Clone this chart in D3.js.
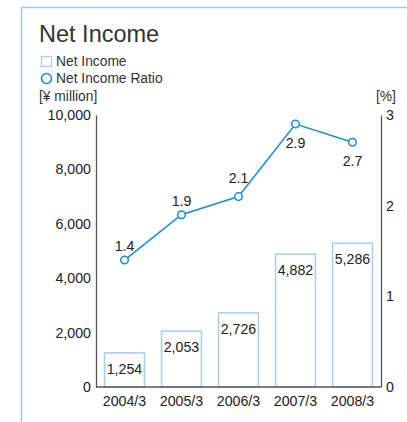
<!DOCTYPE html>
<html><head><meta charset="utf-8">
<script src="https://cdn.jsdelivr.net/npm/d3@7"></script>
<style>body{margin:0;background:#fff}svg{display:block}text{font-family:"Liberation Sans",Arial,sans-serif;fill:#222}</style>
</head><body>
<script>
const categories = ["2004/3","2005/3","2006/3","2007/3","2008/3"];
const netIncome = [1254,2053,2726,4882,5286];
const ratio = [1.4,1.9,2.1,2.9,2.7];
const leftTicks = [0,2000,4000,6000,8000,10000];
const rightTicks = [0,1,2,3];
const ratioLabelDy = [-9.5,-8.5,-14,24,24];

const W=407,H=422;
const svg=d3.select("body").append("svg").attr("width",W).attr("height",H);
const blue="#1a8fd6", barStroke="#a8cdee", frame="#9ccaf0";
const fs=14.2;

svg.append("line").attr("x1",21.5).attr("x2",21.5).attr("y1",7).attr("y2",H).attr("stroke",frame).attr("stroke-width",1.5);
svg.append("line").attr("x1",21).attr("x2",W).attr("y1",7.5).attr("y2",7.5).attr("stroke",frame).attr("stroke-width",1.5);

svg.append("text").attr("x",39).attr("y",42).attr("font-size",23.5).style("fill","#333").text("Net Income");
svg.append("rect").attr("x",41.5).attr("y",56.5).attr("width",10).attr("height",10).attr("fill","#fff").attr("stroke",barStroke).attr("stroke-width",1.2);
svg.append("text").attr("x",56).attr("y",66).attr("font-size",13.8).style("fill","#333").text("Net Income");
svg.append("circle").attr("cx",46.5).attr("cy",78.5).attr("r",5).attr("fill","#fff").attr("stroke",blue).attr("stroke-width",1.6);
svg.append("text").attr("x",56).attr("y",83).attr("font-size",13.8).style("fill","#333").text("Net Income Ratio");
svg.append("text").attr("x",39).attr("y",101).attr("font-size",13.8).style("fill","#333").text("[¥ million]");
svg.append("text").attr("x",376).attr("y",101).attr("font-size",13.8).style("fill","#333").text("[%]");

const x0=96,x1=381,yTop=115,yBot=387;
const x=d3.scaleBand().domain(categories).range([x0,x1]).paddingInner(0.3).paddingOuter(0.15);
const y=d3.scaleLinear().domain([0,10000]).range([yBot,yTop]);
const y2=d3.scaleLinear().domain([0,3]).range([yBot,yTop]);

svg.selectAll(".bar").data(netIncome).join("rect")
 .attr("x",(d,i)=>x(categories[i])).attr("y",d=>y(d))
 .attr("width",x.bandwidth()).attr("height",d=>yBot-y(d))
 .attr("fill","#fff").attr("stroke",barStroke).attr("stroke-width",1.5);
svg.selectAll(".blab").data(netIncome).join("text")
 .attr("x",(d,i)=>x(categories[i])+x.bandwidth()/2).attr("y",d=>y(d)+21)
 .attr("text-anchor","middle").attr("font-size",fs).text(d=>d3.format(",")(d));

const la=svg.append("g").attr("transform",`translate(${x0},0)`).call(d3.axisLeft(y).tickValues(leftTicks).tickSize(0).tickPadding(5).tickFormat(d3.format(",")));
const ra=svg.append("g").attr("transform",`translate(${x1},0)`).call(d3.axisRight(y2).tickValues(rightTicks).tickSize(0).tickPadding(5).tickFormat(d3.format("d")));
const ba=svg.append("g").attr("transform",`translate(0,${yBot})`).call(d3.axisBottom(x).tickSize(0).tickPadding(9));
[la,ra,ba].forEach(g=>{g.select(".domain").attr("stroke","#555").attr("stroke-width",1.3);g.selectAll("text").attr("font-size",fs).style("fill","#222").attr("font-family","Liberation Sans, Arial, sans-serif");});
ba.select(".domain").attr("d",`M${x0},0H${x1}`);

const cx=i=>x(categories[i])+x.bandwidth()/2;
svg.append("path").datum(ratio).attr("d",d3.line().x((d,i)=>cx(i)).y(d=>y2(d)))
 .attr("fill","none").attr("stroke",blue).attr("stroke-width",1.6);
svg.selectAll(".pt").data(ratio).join("circle").attr("cx",(d,i)=>cx(i)).attr("cy",d=>y2(d)).attr("r",3.8)
 .attr("fill","#fff").attr("stroke",blue).attr("stroke-width",1.5);
svg.selectAll(".rlab").data(ratio).join("text").attr("x",(d,i)=>cx(i)).attr("y",(d,i)=>y2(d)+ratioLabelDy[i])
 .attr("text-anchor","middle").attr("font-size",fs).text(d=>d3.format(".1f")(d));
</script>
</body></html>
